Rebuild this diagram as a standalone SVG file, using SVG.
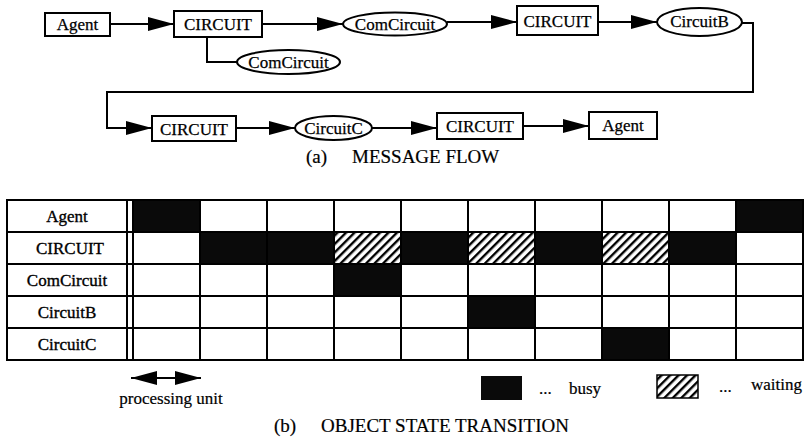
<svg xmlns="http://www.w3.org/2000/svg" width="806" height="440" viewBox="0 0 806 440">
  <style>
    .box { fill: #fff; stroke: #000; stroke-width: 2; }
    .lbl { font-family: "Liberation Serif", "Times New Roman", serif; font-size: 17px; fill: #000; stroke: #000; stroke-width: 0.25; text-anchor: middle; }
    .conn { fill: none; stroke: #000; stroke-width: 2; }
    .cap { font-family: "Liberation Serif", "Times New Roman", serif; font-size: 19px; fill: #000; stroke: #000; stroke-width: 0.2; }
    .grid { fill: none; stroke: #000; stroke-width: 2; }
    .busy { fill: #0a0a0a; }
    .wait { fill: url(#hatch); }
    .row { font-family: "Liberation Serif", "Times New Roman", serif; font-size: 17px; fill: #000; stroke: #000; stroke-width: 0.35; text-anchor: middle; }
    .small { font-family: "Liberation Serif", "Times New Roman", serif; font-size: 17px; fill: #000; stroke: #000; stroke-width: 0.2; }
  </style>
  <defs>
    <marker id="arrow" markerUnits="userSpaceOnUse" markerWidth="28" markerHeight="16" refX="26" refY="7" orient="auto">
      <path d="M0,0 L26,7 L0,14 z" fill="#000"/>
    </marker>
    <marker id="arrowStart" markerUnits="userSpaceOnUse" markerWidth="28" markerHeight="16" refX="0" refY="7" orient="auto">
      <path d="M0,7 L26,0 L26,14 z" fill="#000"/>
    </marker>
    <pattern id="hatch" patternUnits="userSpaceOnUse" width="6" height="6" patternTransform="rotate(45)">
      <rect width="6" height="6" fill="#fff"/>
      <rect x="0" y="0" width="2.4" height="6" fill="#000"/>
    </pattern>
  </defs>

  <!-- message flow: connectors -->
  <g id="connectors">
    <path class="conn" d="M110,24 H174" marker-end="url(#arrow)"/>
    <path class="conn" d="M262,24 H343" marker-end="url(#arrow)"/>
    <path class="conn" d="M207,37 V62 H237"/>
    <path class="conn" d="M447,22 H517" marker-end="url(#arrow)"/>
    <path class="conn" d="M598,22 H657" marker-end="url(#arrow)"/>
    <path class="conn" d="M742,23 H753 V92 H107 V128 H152" marker-end="url(#arrow)"/>
    <path class="conn" d="M236,128 H295" marker-end="url(#arrow)"/>
    <path class="conn" d="M372,128 H437" marker-end="url(#arrow)"/>
    <path class="conn" d="M523,126 H589" marker-end="url(#arrow)"/>
  </g>

  <!-- message flow: nodes -->
  <g id="agent1">
    <rect class="box" x="45" y="13" width="65" height="23"/>
    <text class="lbl" x="77.5" y="30">Agent</text>
  </g>
  <g id="circuit1">
    <rect class="box" x="174" y="11" width="88" height="26"/>
    <text class="lbl" x="218" y="30">CIRCUIT</text>
  </g>
  <g id="comcircuit1">
    <ellipse class="box" cx="395" cy="24" rx="52" ry="11.5"/>
    <text class="lbl" x="395" y="29.5">ComCircuit</text>
  </g>
  <g id="comcircuit2">
    <ellipse class="box" cx="288.5" cy="62" rx="51.5" ry="12"/>
    <text class="lbl" x="288.5" y="67.5">ComCircuit</text>
  </g>
  <g id="circuit2">
    <rect class="box" x="517" y="6" width="81" height="29"/>
    <text class="lbl" x="557.5" y="27">CIRCUIT</text>
  </g>
  <g id="circuitB">
    <ellipse class="box" cx="699.5" cy="22" rx="42.5" ry="14"/>
    <text class="lbl" x="699.5" y="27">CircuitB</text>
  </g>
  <g id="circuit3">
    <rect class="box" x="152" y="116" width="84" height="25"/>
    <text class="lbl" x="194" y="134.5">CIRCUIT</text>
  </g>
  <g id="circuitC">
    <ellipse class="box" cx="333.5" cy="128" rx="38.5" ry="12"/>
    <text class="lbl" x="333.5" y="133.5">CircuitC</text>
  </g>
  <g id="circuit4">
    <rect class="box" x="437" y="113" width="86" height="26"/>
    <text class="lbl" x="480" y="132">CIRCUIT</text>
  </g>
  <g id="agent2">
    <rect class="box" x="589" y="112" width="68" height="27"/>
    <text class="lbl" x="623" y="131">Agent</text>
  </g>

  <text class="cap" x="306" y="163">(a)</text>
  <text class="cap" x="352" y="163">MESSAGE FLOW</text>

  <!-- object state transition chart -->
  <g id="chart">
    <!-- busy cells -->
    <rect class="busy" x="133" y="200" width="67" height="32"/>
    <rect class="busy" x="736" y="200" width="67" height="32"/>
    <rect class="busy" x="200" y="232" width="134" height="32"/>
    <rect class="busy" x="401" y="232" width="67" height="32"/>
    <rect class="busy" x="535" y="232" width="67" height="32"/>
    <rect class="busy" x="669" y="232" width="67" height="32"/>
    <rect class="busy" x="334" y="264" width="67" height="32"/>
    <rect class="busy" x="468" y="296" width="67" height="32"/>
    <rect class="busy" x="602" y="328" width="67" height="32"/>
    <!-- waiting cells -->
    <rect class="wait" x="334" y="232" width="67" height="32"/>
    <rect class="wait" x="468" y="232" width="67" height="32"/>
    <rect class="wait" x="602" y="232" width="67" height="32"/>
    <!-- grid -->
    <rect class="grid" x="7" y="200" width="796" height="160"/>
    <path class="grid" d="M7,232 H803 M7,264 H803 M7,296 H803 M7,328 H803"/>
    <path class="grid" d="M127,200 V360 M133,200 V360 M200,200 V360 M267,200 V360 M334,200 V360 M401,200 V360 M468,200 V360 M535,200 V360 M602,200 V360 M669,200 V360 M736,200 V360"/>
    <!-- row labels -->
    <text class="row" x="67" y="222">Agent</text>
    <text class="row" x="70" y="254">CIRCUIT</text>
    <text class="row" x="67" y="286">ComCircuit</text>
    <text class="row" x="67" y="318">CircuitB</text>
    <text class="row" x="67" y="350">CircuitC</text>
  </g>

  <!-- time scale and legend -->
  <g id="legend">
    <path class="conn" d="M131,378 H201" marker-start="url(#arrowStart)" marker-end="url(#arrow)"/>
    <text class="small" x="171" y="404" text-anchor="middle">processing unit</text>
    <rect x="481" y="376" width="41" height="24" fill="#0a0a0a"/>
    <text class="small" x="539" y="394">...</text>
    <text class="small" x="569" y="394">busy</text>
    <rect x="657" y="375" width="41" height="23" fill="url(#hatch)" stroke="#000" stroke-width="1.5"/>
    <text class="small" x="719" y="392">...</text>
    <text class="small" x="751" y="390">waiting</text>
  </g>

  <text class="cap" x="274" y="432">(b)</text>
  <text class="cap" x="321" y="432">OBJECT STATE TRANSITION</text>
</svg>
